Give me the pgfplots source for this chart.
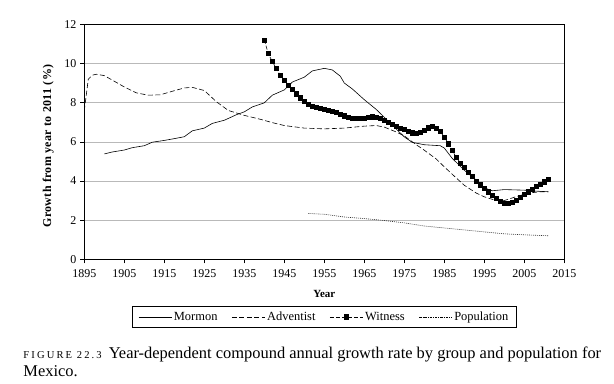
\documentclass[border=0pt]{standalone}
\usepackage{pgfplots}
\pgfplotsset{compat=1.18}
\usepackage{fontspec}
\setmainfont{Liberation Serif}
\begin{document}
\begin{tikzpicture}
\path[use as bounding box] (-84.3bp,-124.7bp) rectangle (529.7bp,259.3bp);
\begin{axis}[
  scale only axis, width=480bp, height=235bp,
  anchor=south west, at={(0,0)},
  xmin=1895, xmax=2015, ymin=0, ymax=12,
  xtick={1895,1905,...,2015}, ytick={0,2,...,12},
  /pgf/number format/assume math mode=true,
  xticklabel={\pgfmathprintnumber[1000 sep=]{\tick}},
  tick align=outside, major tick length=4bp,
  xtick pos=bottom, ytick pos=left,
  ymajorgrids, grid style={gray!55, line width=0.6pt},
  axis line style={line width=0.7pt},
  tick style={black, line width=0.6pt},
  ticklabel style={font=\fontsize{12}{14}\selectfont},
  xticklabel style={yshift=-3bp},
  yticklabel style={xshift=-0.5bp},
  xlabel={Year}, ylabel={Growth from year to 2011 (\%)},
  xlabel style={font=\fontsize{11}{13}\selectfont\bfseries, at={(axis description cs:0.5,-0.1477)}, anchor=center},
  ylabel style={font=\fontsize{12}{14}\selectfont\bfseries\addfontfeature{LetterSpace=3}, at={(axis description cs:-0.075,0.482)}, anchor=center},
  legend columns=4,
  legend style={at={(axis description cs:0.5,-0.2447)}, anchor=center,
    font=\fontsize{12.5}{14}\selectfont, draw=black, line width=0.6pt,
    inner xsep=6bp, inner ysep=3bp,
    /tikz/every even column/.append style={column sep=12bp}},
  legend image code/.code={\draw[mark repeat=2,mark phase=2,#1] plot coordinates {(0bp,0bp) (16.5bp,0bp) (33bp,0bp)};},
]
\addplot[black, line width=0.6pt] coordinates {
(1900,5.38) (1902,5.48) (1905,5.58) (1907,5.7) (1910,5.8) (1912,5.98) (1915,6.07)
(1918,6.18) (1920,6.26) (1922,6.56) (1925,6.7) (1927,6.94) (1930,7.1) (1933,7.38)
(1935,7.53) (1937,7.78) (1940,7.99) (1942,8.38) (1945,8.65) (1947,9.05) (1950,9.3)
(1952,9.62) (1955,9.75) (1957,9.67) (1959,9.35) (1960,9.0) (1962,8.7) (1965,8.15)
(1968,7.65) (1970,7.25) (1972,6.85) (1975,6.25) (1977,5.97) (1980,5.85) (1984,5.8)
(1985,5.68) (1987,5.15) (1990,4.55) (1993,4.04) (1995,3.65) (1997,3.5) (2000,3.56)
(2005,3.53) (2008,3.48) (2011,3.45)};
\addlegendentry{Mormon}
\addplot[black, line width=0.6pt, dash pattern=on 5bp off 2.5bp] coordinates {
(1895,7.6) (1896,9.2) (1897,9.4) (1898,9.45) (1900,9.38) (1902,9.15) (1905,8.8)
(1908,8.5) (1911,8.38) (1914,8.4) (1917,8.58) (1920,8.75) (1922,8.78) (1925,8.62)
(1928,8.05) (1931,7.6) (1935,7.35) (1939,7.15) (1942,6.98) (1945,6.83) (1950,6.7)
(1955,6.66) (1960,6.7) (1965,6.8) (1968,6.83) (1970,6.75) (1973,6.5) (1975,6.3)
(1978,5.85) (1980,5.57) (1983,5.12) (1985,4.72) (1988,4.15) (1990,3.78) (1993,3.38)
(1995,3.19) (1998,3.0) (2000,3.0) (2003,3.2) (2006,3.38) (2009,3.45) (2011,3.44)};
\addlegendentry{Adventist}
\addplot[black, line width=0.6pt, dash pattern=on 4bp off 2bp, mark=square*, mark size=2.1bp, mark options={solid}] coordinates {
(1940,11.2) (1941,10.5) (1942,10.1) (1943,9.75) (1944,9.4) (1945,9.13) (1946,8.9)
(1947,8.67) (1948,8.45) (1949,8.25) (1950,8.05) (1951,7.92) (1952,7.82) (1953,7.75)
(1954,7.7) (1955,7.65) (1956,7.6) (1957,7.55) (1958,7.5) (1959,7.42) (1960,7.33)
(1961,7.27) (1962,7.22) (1963,7.18) (1964,7.18) (1965,7.2) (1966,7.25) (1967,7.28)
(1968,7.26) (1969,7.2) (1970,7.1) (1971,7.0) (1972,6.9) (1973,6.8) (1974,6.7)
(1975,6.62) (1976,6.52) (1977,6.46) (1978,6.45) (1979,6.5) (1980,6.6) (1981,6.72)
(1982,6.78) (1983,6.7) (1984,6.52) (1985,6.25) (1986,5.9) (1987,5.55) (1988,5.2)
(1989,4.92) (1990,4.7) (1991,4.45) (1992,4.22) (1993,4.0) (1994,3.8) (1995,3.62)
(1996,3.45) (1997,3.28) (1998,3.1) (1999,2.97) (2000,2.87) (2001,2.85) (2002,2.92)
(2003,3.02) (2004,3.15) (2005,3.3) (2006,3.45) (2007,3.58) (2008,3.72) (2009,3.84)
(2010,3.96) (2011,4.08)};
\addlegendentry{Witness}
\addplot[black!80, line width=0.6pt, dash pattern=on 1bp off 1bp,
  legend image code/.code={\draw[black, line width=0.6pt, dash pattern=on 2.5bp off 1bp on 0.8bp off 1bp] (0bp,0bp) -- (33bp,0bp);}] coordinates {
(1951,2.34) (1955,2.3) (1960,2.16) (1965,2.08) (1970,1.98) (1975,1.86) (1980,1.7)
(1985,1.6) (1990,1.5) (1995,1.4) (2000,1.3) (2005,1.25) (2011,1.2)};
\addlegendentry{Population}
\end{axis}
\node[anchor=base west, inner sep=0pt] at (-61bp,-99.3bp) {{\fontsize{10.6}{12}\selectfont\addfontfeature{LetterSpace=20}FIGURE 22.3}\hspace{7bp}\fontsize{16.5}{18}\selectfont Year-dependent compound annual growth rate by group and population for};
\node[anchor=base west, inner sep=0pt] at (-61bp,-116.7bp) {\fontsize{16.5}{18}\selectfont Mexico.};
\end{tikzpicture}
\end{document}
